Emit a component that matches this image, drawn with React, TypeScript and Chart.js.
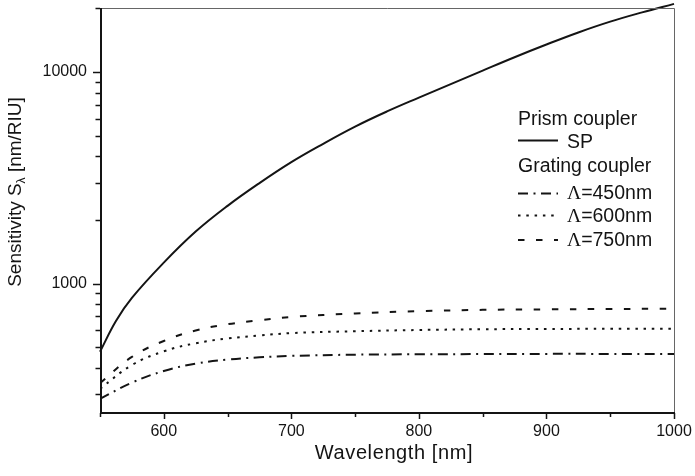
import React, { useEffect, useRef } from "react";
import { Chart, registerables } from "chart.js";
Chart.register(...registerables);

// ---- data ----
const WL_SP = [550, 562.5, 575, 600, 625, 650, 675, 700, 725, 750, 775, 800, 825, 850, 875, 900, 925, 950, 975, 1000];
const SP = [476, 665, 855, 1255, 1760, 2330, 2985, 3750, 4580, 5520, 6510, 7570, 8770, 10160, 11750, 13490, 15380, 17300, 19140, 21000];

const WL_G = [550, 575, 600, 625, 650, 675, 700, 750, 800, 850, 900, 950, 1000];
const G450 = [285, 340, 386, 418, 437, 448, 455, 461, 463, 464, 465, 465, 465];
const G600 = [318, 412, 478, 522, 550, 568, 583, 595, 603, 608, 610, 611, 612];
const G750 = [338, 450, 535, 600, 642, 670, 695, 722, 740, 751, 755, 758, 760];

const X_MAJOR = [600, 700, 800, 900, 1000];
const X_MINOR = [550, 650, 750, 850, 950];
const Y_MAJOR = [1000, 10000];
const Y_MINOR = [300, 400, 500, 600, 700, 800, 900, 2000, 3000, 4000, 5000, 6000, 7000, 8000, 9000, 20000];

const X_MIN = 550;
const X_MAX = 1000;
const Y_MIN = 247;
const Y_MAX = 20075;

const X_TITLE = "Wavelength [nm]";
const Y_TITLE_A = "Sensitivity S";
const Y_TITLE_SUB = "\u03BB";
const Y_TITLE_B = " [nm/RIU]";

const LEG_HEAD_1 = "Prism coupler";
const LEG_SP = "SP";
const LEG_HEAD_2 = "Grating coupler";
const LEG_G = ["=450nm", "=600nm", "=750nm"];

const INK = "#141414";
const SANS = '"Liberation Sans", Arial, sans-serif';
const SERIF = '"Liberation Serif", "Times New Roman", serif';

const DASH_450 = [10, 5.5, 2, 5.5];
const DASH_600 = [2.5, 5.8];
const DASH_750 = [6.5, 11.5];

const pts = (xs: number[], ys: number[]) => xs.map((x, i) => ({ x, y: ys[i] }));

const decor = {
  id: "decor",
  afterDatasetsDraw(chart: any) {
    const { ctx, chartArea: a, scales } = chart;
    const x = scales.x;
    const y = scales.y;
    ctx.save();
    ctx.setLineDash([]);
    // top & right border (gray, thin)
    ctx.strokeStyle = "#666";
    ctx.lineWidth = 1;
    ctx.beginPath();
    ctx.moveTo(a.left, a.top + 0.5);
    ctx.lineTo(a.right + 0.5, a.top + 0.5);
    ctx.lineTo(a.right + 0.5, a.bottom);
    ctx.stroke();
    // left & bottom axes
    ctx.strokeStyle = INK;
    ctx.lineWidth = 2;
    ctx.beginPath();
    ctx.moveTo(a.left + 1, a.top);
    ctx.lineTo(a.left + 1, a.bottom + 1);
    ctx.lineTo(a.right + 1, a.bottom + 1);
    ctx.stroke();
    // ticks
    ctx.lineWidth = 1.5;
    ctx.beginPath();
    for (const v of Y_MAJOR) {
      const py = Math.round(y.getPixelForValue(v)) + 0.5;
      ctx.moveTo(a.left, py);
      ctx.lineTo(a.left - 7, py);
    }
    for (const v of Y_MINOR) {
      const py = Math.round(y.getPixelForValue(v)) + 0.5;
      ctx.moveTo(a.left, py);
      ctx.lineTo(a.left - 4.5, py);
    }
    for (const v of X_MAJOR) {
      const px = Math.round(x.getPixelForValue(v)) + 0.5;
      ctx.moveTo(px, a.bottom + 1);
      ctx.lineTo(px, a.bottom + 7);
    }
    for (const v of X_MINOR) {
      const px = Math.round(x.getPixelForValue(v)) + 0.5;
      ctx.moveTo(px, a.bottom + 1);
      ctx.lineTo(px, a.bottom + 5);
    }
    ctx.stroke();

    // x title
    ctx.fillStyle = INK;
    ctx.font = `20px ${SANS}`;
    ctx.textAlign = "center";
    ctx.textBaseline = "alphabetic";
    (ctx as any).letterSpacing = "0.6px";
    ctx.fillText(X_TITLE, 394, 459);
    (ctx as any).letterSpacing = "0px";

    // y title (rotated, with subscript)
    ctx.save();
    ctx.translate(21, 192);
    ctx.rotate(-Math.PI / 2);
    ctx.textAlign = "left";
    ctx.font = `19px ${SANS}`;
    const wA = ctx.measureText(Y_TITLE_A).width;
    const wB = ctx.measureText(Y_TITLE_B).width;
    ctx.font = `12px ${SANS}`;
    const wS = ctx.measureText(Y_TITLE_SUB).width;
    const total = wA + wS + wB;
    let cx = -total / 2;
    ctx.font = `19px ${SANS}`;
    ctx.fillText(Y_TITLE_A, cx, 0);
    cx += wA;
    ctx.font = `12px ${SANS}`;
    ctx.fillText(Y_TITLE_SUB, cx, 4);
    cx += wS;
    ctx.font = `19px ${SANS}`;
    ctx.fillText(Y_TITLE_B, cx, 0);
    ctx.restore();

    // legend
    const lx1 = 518;
    const lx2 = 558;
    const tx = 567;
    ctx.textAlign = "left";
    ctx.font = `19.5px ${SANS}`;
    ctx.fillText(LEG_HEAD_1, lx1, 124.5);
    ctx.fillText(LEG_SP, tx, 147.5);
    ctx.fillText(LEG_HEAD_2, lx1, 171.5);
    const rows = [
      { ly: 193.5, ty: 198.5, dash: DASH_450 },
      { ly: 215.5, ty: 221.5, dash: DASH_600 },
      { ly: 240, ty: 245.5, dash: DASH_750 },
    ];
    ctx.strokeStyle = INK;
    ctx.lineWidth = 2;
    ctx.beginPath();
    ctx.moveTo(lx1, 140.5);
    ctx.lineTo(lx2, 140.5);
    ctx.stroke();
    rows.forEach((r, i) => {
      ctx.setLineDash(r.dash);
      ctx.beginPath();
      ctx.moveTo(lx1, r.ly);
      ctx.lineTo(lx2, r.ly);
      ctx.stroke();
      ctx.setLineDash([]);
      ctx.font = `19.5px ${SERIF}`;
      ctx.fillText("\u039B", tx, r.ty);
      const wl = ctx.measureText("\u039B").width;
      ctx.font = `19.5px ${SANS}`;
      ctx.fillText(LEG_G[i], tx + wl, r.ty);
    });
    ctx.restore();
  },
};

export default function App() {
  const ref = useRef<HTMLCanvasElement | null>(null);
  useEffect(() => {
    if (!ref.current) return;
    const common = {
      borderColor: INK,
      borderWidth: 2,
      pointRadius: 0,
      fill: false,
      tension: 0.4,
    };
    const chart = new Chart(ref.current, {
      type: "line",
      data: {
        datasets: [
          { ...common, label: "SP", data: pts(WL_SP, SP), clip: false as any },
          { ...common, label: "450", data: pts(WL_G, G450), borderDash: DASH_450 },
          { ...common, label: "600", data: pts(WL_G, G600), borderDash: DASH_600 },
          { ...common, label: "750", data: pts(WL_G, G750), borderDash: DASH_750 },
        ],
      },
      options: {
        responsive: false,
        animation: false,
        layout: { padding: { top: 8, right: 21, left: 0, bottom: 0 } },
        plugins: { legend: { display: false }, tooltip: { enabled: false } },
        scales: {
          x: {
            type: "linear",
            min: X_MIN,
            max: X_MAX,
            grid: { display: false, drawTicks: false },
            border: { display: false },
            afterBuildTicks: (s: any) => {
              s.ticks = [...X_MINOR, ...X_MAJOR].sort((p, q) => p - q).map((v) => ({ value: v }));
            },
            afterFit: (s: any) => {
              s.height = 64;
              s.paddingLeft = 0;
              s.paddingRight = 0;
            },
            ticks: {
              autoSkip: false,
              maxRotation: 0,
              padding: 10,
              color: INK,
              font: { family: SANS, size: 16 },
              callback: (v: any) => (X_MAJOR.includes(Number(v)) ? String(v) : ""),
            },
          },
          y: {
            type: "logarithmic",
            min: Y_MIN,
            max: Y_MAX,
            grid: { display: false, drawTicks: false },
            border: { display: false },
            afterBuildTicks: (s: any) => {
              s.ticks = [...Y_MINOR, ...Y_MAJOR].sort((p, q) => p - q).map((v) => ({ value: v }));
            },
            afterFit: (s: any) => {
              s.width = 100;
              s.paddingTop = 0;
              s.paddingBottom = 0;
            },
            ticks: {
              autoSkip: false,
              padding: 13,
              color: INK,
              font: { family: SANS, size: 16 },
              callback: (v: any) => (Y_MAJOR.includes(Number(v)) ? String(v) : ""),
            },
          },
        },
      },
      plugins: [decor],
    });
    return () => chart.destroy();
  }, []);
  return (
    <div style={{ position: "absolute", left: 0, top: 0, width: 695, height: 476, background: "#fff" }}>
      <canvas ref={ref} width={695} height={476} style={{ display: "block" }} />
    </div>
  );
}
